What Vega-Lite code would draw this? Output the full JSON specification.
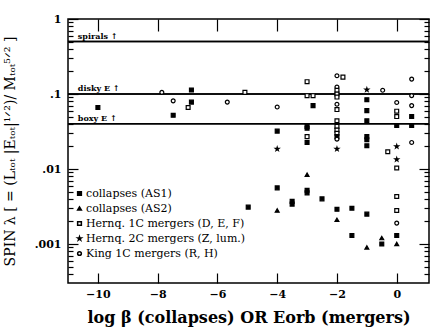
{
  "$schema": "https://vega.github.io/schema/vega-lite/v6.json",
  "width": 361,
  "height": 264,
  "autosize": {"type": "none"},
  "padding": {"left": 68, "top": 19, "right": 7, "bottom": 45},
  "background": "white",
  "config": {
    "view": {"stroke": "black", "strokeWidth": 1.5, "fill": null},
    "axis": {
      "grid": false,
      "domain": false,
      "ticks": true,
      "zindex": 1,
      "tickColor": "black",
      "tickWidth": 1.2,
      "labelColor": "black",
      "titleColor": "black",
      "labelFont": "DejaVu Serif",
      "labelFontWeight": "bold",
      "labelFontSize": 11,
      "titleFont": "DejaVu Serif",
      "titleFontWeight": "normal"
    }
  },
  "datasets": {
    "lines": [
      {"y": 0.5, "label": "spirals  ↑"},
      {"y": 0.1, "label": "disky E ↑"},
      {"y": 0.04, "label": "boxy E  ↑"}
    ],
    "pts": [
      {"x": -10, "y": 0.066, "type": "collapses (AS1)"},
      {"x": -7.86, "y": 0.105, "type": "King 1C mergers (R, H)"},
      {"x": -7.48, "y": 0.081, "type": "King 1C mergers (R, H)"},
      {"x": -7.48, "y": 0.052, "type": "collapses (AS1)"},
      {"x": -6.98, "y": 0.066, "type": "Hernq. 1C mergers (D, E, F)"},
      {"x": -6.87, "y": 0.113, "type": "collapses (AS1)"},
      {"x": -6.87, "y": 0.078, "type": "collapses (AS1)"},
      {"x": -5.67, "y": 0.078, "type": "King 1C mergers (R, H)"},
      {"x": -5.08, "y": 0.105, "type": "Hernq. 1C mergers (D, E, F)"},
      {"x": -4, "y": 0.067, "type": "King 1C mergers (R, H)"},
      {"x": -4, "y": 0.032, "type": "collapses (AS1)"},
      {"x": -4, "y": 0.0185, "type": "Hernq. 2C mergers (Z, lum.)"},
      {"x": -3, "y": 0.146, "type": "Hernq. 1C mergers (D, E, F)"},
      {"x": -3, "y": 0.095, "type": "Hernq. 1C mergers (D, E, F)"},
      {"x": -2.8, "y": 0.095, "type": "Hernq. 1C mergers (D, E, F)"},
      {"x": -2.8, "y": 0.07, "type": "collapses (AS1)"},
      {"x": -3, "y": 0.037, "type": "collapses (AS1)"},
      {"x": -3, "y": 0.035, "type": "collapses (AS1)"},
      {"x": -3, "y": 0.027, "type": "Hernq. 1C mergers (D, E, F)"},
      {"x": -3, "y": 0.0226, "type": "collapses (AS1)"},
      {"x": -2, "y": 0.175, "type": "King 1C mergers (R, H)"},
      {"x": -1.8, "y": 0.168, "type": "Hernq. 1C mergers (D, E, F)"},
      {"x": -2, "y": 0.124, "type": "King 1C mergers (R, H)"},
      {"x": -2, "y": 0.112, "type": "Hernq. 1C mergers (D, E, F)"},
      {"x": -2, "y": 0.1, "type": "Hernq. 1C mergers (D, E, F)"},
      {"x": -2, "y": 0.091, "type": "Hernq. 1C mergers (D, E, F)"},
      {"x": -2, "y": 0.073, "type": "King 1C mergers (R, H)"},
      {"x": -2, "y": 0.062, "type": "Hernq. 1C mergers (D, E, F)"},
      {"x": -2, "y": 0.044, "type": "Hernq. 1C mergers (D, E, F)"},
      {"x": -2, "y": 0.037, "type": "Hernq. 1C mergers (D, E, F)"},
      {"x": -2, "y": 0.033, "type": "Hernq. 1C mergers (D, E, F)"},
      {"x": -2, "y": 0.03, "type": "Hernq. 1C mergers (D, E, F)"},
      {"x": -2, "y": 0.027, "type": "collapses (AS1)"},
      {"x": -2, "y": 0.025, "type": "King 1C mergers (R, H)"},
      {"x": -2, "y": 0.0185, "type": "Hernq. 2C mergers (Z, lum.)"},
      {"x": -1, "y": 0.114, "type": "Hernq. 2C mergers (Z, lum.)"},
      {"x": -1, "y": 0.084, "type": "collapses (AS1)"},
      {"x": -1, "y": 0.06, "type": "collapses (AS1)"},
      {"x": -1, "y": 0.044, "type": "collapses (AS1)"},
      {"x": -1, "y": 0.027, "type": "collapses (AS1)"},
      {"x": -1, "y": 0.0246, "type": "collapses (AS1)"},
      {"x": -1, "y": 0.0204, "type": "collapses (AS1)"},
      {"x": -0.47, "y": 0.112, "type": "King 1C mergers (R, H)"},
      {"x": 0, "y": 0.077, "type": "King 1C mergers (R, H)"},
      {"x": 0, "y": 0.059, "type": "Hernq. 1C mergers (D, E, F)"},
      {"x": 0, "y": 0.05, "type": "Hernq. 1C mergers (D, E, F)"},
      {"x": 0, "y": 0.038, "type": "collapses (AS1)"},
      {"x": 0, "y": 0.02, "type": "Hernq. 2C mergers (Z, lum.)"},
      {"x": 0, "y": 0.0134, "type": "Hernq. 2C mergers (Z, lum.)"},
      {"x": 0, "y": 0.0103, "type": "Hernq. 1C mergers (D, E, F)"},
      {"x": 0.5, "y": 0.158, "type": "King 1C mergers (R, H)"},
      {"x": 0.5, "y": 0.095, "type": "King 1C mergers (R, H)"},
      {"x": 0.5, "y": 0.07, "type": "King 1C mergers (R, H)"},
      {"x": 0.5, "y": 0.05, "type": "collapses (AS1)"},
      {"x": 0.5, "y": 0.038, "type": "collapses (AS1)"},
      {"x": 0.5, "y": 0.0226, "type": "King 1C mergers (R, H)"},
      {"x": -0.3, "y": 0.017, "type": "Hernq. 1C mergers (D, E, F)"},
      {"x": -4, "y": 0.0056, "type": "collapses (AS1)"},
      {"x": -4, "y": 0.0028, "type": "collapses (AS2)"},
      {"x": -3, "y": 0.0084, "type": "collapses (AS2)"},
      {"x": -3, "y": 0.0052, "type": "collapses (AS1)"},
      {"x": -3, "y": 0.0048, "type": "collapses (AS1)"},
      {"x": -3.5, "y": 0.0037, "type": "collapses (AS1)"},
      {"x": -3.5, "y": 0.0034, "type": "collapses (AS1)"},
      {"x": -2.5, "y": 0.004, "type": "collapses (AS1)"},
      {"x": -4.97, "y": 0.0031, "type": "collapses (AS1)"},
      {"x": -2, "y": 0.0029, "type": "collapses (AS1)"},
      {"x": -2, "y": 0.0021, "type": "collapses (AS2)"},
      {"x": -1.5, "y": 0.003, "type": "collapses (AS1)"},
      {"x": -1, "y": 0.0025, "type": "collapses (AS1)"},
      {"x": -1.5, "y": 0.0013, "type": "collapses (AS1)"},
      {"x": -1, "y": 0.0009, "type": "collapses (AS2)"},
      {"x": -0.5, "y": 0.001, "type": "collapses (AS1)"},
      {"x": -0.5, "y": 0.0012, "type": "collapses (AS2)"},
      {"x": 0, "y": 0.0043, "type": "Hernq. 1C mergers (D, E, F)"},
      {"x": 0, "y": 0.0028, "type": "Hernq. 1C mergers (D, E, F)"},
      {"x": 0, "y": 0.0019, "type": "King 1C mergers (R, H)"},
      {"x": 0, "y": 0.0013, "type": "collapses (AS1)"},
      {"x": 0, "y": 0.001, "type": "collapses (AS2)"}
    ]
  },
  "layer": [
    {
      "data": {"name": "lines"},
      "mark": {"type": "rule", "color": "black", "strokeWidth": 1.5},
      "encoding": {
        "y": {
          "field": "y",
          "type": "quantitative",
          "scale": {"type": "log", "domain": [0.000302, 1], "nice": false},
          "axis": {
            "orient": "left",
            "values": [0.001, 0.01, 0.1, 1],
            "tickSize": 10,
            "offset": -10,
            "labelExpr": "datum.value == 1 ? '1' : datum.value == 0.1 ? '.1' : datum.value == 0.01 ? '.01' : '.001'",
            "labelOverlap": false,
            "labelPadding": 7,
            "title": "SPIN λ [ = (Lₜₒₜ |Eₜₒₜ|¹ᐟ²)/ Mₜₒₜ⁵ᐟ² ]",
            "titleFontSize": 14,
            "titlePadding": 17
          }
        }
      }
    },
    {
      "data": {"name": "lines"},
      "mark": {"type": "rule", "color": "black", "strokeWidth": 1.5},
      "encoding": {
        "y": {
          "field": "y",
          "type": "quantitative",
          "scale": {"type": "log", "domain": [0.000302, 1], "nice": false},
          "axis": {
            "orient": "left",
            "values": [0.0004, 0.0005, 0.0006, 0.0007, 0.0008, 0.0009, 0.002, 0.003, 0.004, 0.005, 0.006, 0.007, 0.008, 0.009, 0.02, 0.03, 0.04, 0.05, 0.06, 0.07, 0.08, 0.09, 0.2, 0.3, 0.4, 0.5, 0.6, 0.7, 0.8, 0.9],
            "tickSize": 5,
            "offset": -5,
            "labels": false,
            "title": null
          }
        }
      }
    },
    {
      "data": {"name": "lines"},
      "mark": {"type": "text", "align": "left", "baseline": "bottom", "dy": -1, "font": "DejaVu Serif", "fontWeight": "bold", "fontSize": 8, "color": "black"},
      "encoding": {
        "x": {
          "datum": -10.67,
          "type": "quantitative",
          "scale": {"domain": [-11, 1.08], "nice": false, "zero": false},
          "axis": {
            "orient": "bottom",
            "values": [-10, -8, -6, -4, -2, 0],
            "tickSize": 10,
            "offset": -10,
            "labelPadding": 5,
            "title": "log β (collapses) OR Eorb (mergers)",
            "titleFontSize": 16,
            "titleFontWeight": "bold",
            "titlePadding": 10
          }
        },
        "y": {
          "field": "y",
          "type": "quantitative",
          "scale": {"type": "log", "domain": [0.000302, 1], "nice": false},
          "axis": {"orient": "right", "values": [0.001, 0.01, 0.1, 1], "tickSize": 10, "offset": -10, "labels": false, "title": null}
        },
        "text": {"field": "label"}
      }
    },
    {
      "data": {"name": "pts"},
      "mark": {"type": "point", "filled": false, "stroke": "black", "strokeWidth": 1.2, "size": 15, "opacity": 1},
      "encoding": {
        "x": {
          "field": "x",
          "type": "quantitative",
          "scale": {"domain": [-11, 1.08], "nice": false, "zero": false},
          "axis": {"orient": "top", "values": [-10, -8, -6, -4, -2, 0], "tickSize": 12, "offset": -12, "labels": false, "title": null}
        },
        "y": {
          "field": "y",
          "type": "quantitative",
          "scale": {"type": "log", "domain": [0.000302, 1], "nice": false},
          "axis": {
            "orient": "right",
            "values": [0.0004, 0.0005, 0.0006, 0.0007, 0.0008, 0.0009, 0.002, 0.003, 0.004, 0.005, 0.006, 0.007, 0.008, 0.009, 0.02, 0.03, 0.04, 0.05, 0.06, 0.07, 0.08, 0.09, 0.2, 0.3, 0.4, 0.5, 0.6, 0.7, 0.8, 0.9],
            "tickSize": 5,
            "offset": -5,
            "labels": false,
            "title": null
          }
        },
        "shape": {
          "field": "type",
          "type": "nominal",
          "scale": {
            "domain": ["collapses (AS1)", "collapses (AS2)", "Hernq. 1C mergers (D, E, F)", "Hernq. 2C mergers (Z, lum.)", "King 1C mergers (R, H)"],
            "range": ["square", "triangle-up", "square", "M0,-1L0.224,-0.309L0.951,-0.309L0.363,0.118L0.588,0.809L0,0.382L-0.588,0.809L-0.363,0.118L-0.951,-0.309L-0.224,-0.309Z", "circle"]
          },
          "legend": {
            "orient": "none",
            "legendX": 6,
            "legendY": 169,
            "title": null,
            "padding": 0,
            "labelFont": "DejaVu Serif",
            "labelFontSize": 11,
            "labelColor": "black",
            "labelOffset": 1,
            "symbolSize": 14,
            "rowPadding": 3,
            "encode": {"symbols": {"update": {"stroke": {"value": "black"}, "strokeWidth": {"value": 1}}}}
          }
        },
        "fill": {
          "field": "type",
          "type": "nominal",
          "scale": {
            "domain": ["collapses (AS1)", "collapses (AS2)", "Hernq. 1C mergers (D, E, F)", "Hernq. 2C mergers (Z, lum.)", "King 1C mergers (R, H)"],
            "range": ["black", "black", "white", "black", "white"]
          },
          "legend": {
            "orient": "none",
            "legendX": 6,
            "legendY": 169,
            "title": null,
            "padding": 0,
            "labelFont": "DejaVu Serif",
            "labelFontSize": 11,
            "labelColor": "black",
            "labelOffset": 1,
            "symbolSize": 14,
            "rowPadding": 3,
            "encode": {"symbols": {"update": {"stroke": {"value": "black"}, "strokeWidth": {"value": 1}}}}
          }
        }
      }
    }
  ],
  "resolve": {"axis": {"x": "independent", "y": "independent"}}
}
